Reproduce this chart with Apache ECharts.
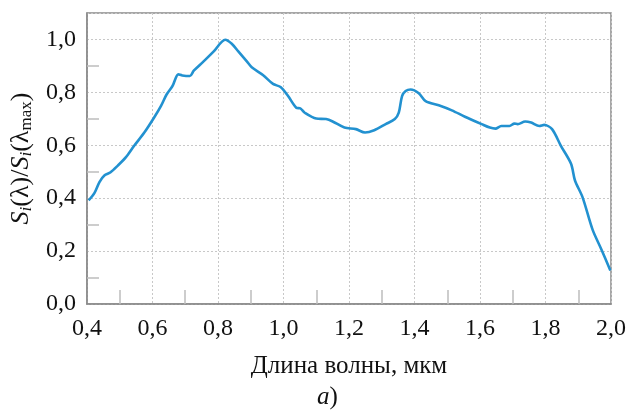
<!DOCTYPE html>
<html>
<head>
<meta charset="utf-8">
<script src="https://cdn.jsdelivr.net/npm/echarts@6/dist/echarts.min.js"></script>
<style>html,body{margin:0;padding:0;background:#fff;}#c{width:629px;height:416px;}</style>
</head>
<body>
<div id="c"></div>
<script>
const wavelength = [0.405,0.423,0.438,0.453,0.472,0.494,0.519,0.544,0.575,0.605,0.626,0.643,0.661,0.679,0.691,0.714,0.726,0.756,0.787,0.822,0.842,0.862,0.888,0.903,0.938,0.968,0.991,1.014,1.039,1.052,1.065,1.100,1.130,1.150,1.186,1.221,1.249,1.277,1.312,1.340,1.352,1.362,1.373,1.388,1.413,1.434,1.474,1.514,1.554,1.605,1.630,1.647,1.665,1.690,1.705,1.715,1.738,1.756,1.781,1.796,1.820,1.847,1.878,1.890,1.913,1.944,1.969,1.998];
const response = [0.392,0.420,0.461,0.486,0.498,0.523,0.555,0.598,0.648,0.705,0.749,0.792,0.824,0.868,0.864,0.862,0.882,0.917,0.955,0.999,0.984,0.955,0.917,0.895,0.865,0.832,0.820,0.786,0.742,0.739,0.723,0.701,0.699,0.690,0.667,0.661,0.648,0.657,0.680,0.699,0.723,0.786,0.805,0.811,0.797,0.767,0.751,0.732,0.708,0.680,0.667,0.663,0.673,0.673,0.682,0.680,0.690,0.686,0.673,0.677,0.661,0.598,0.530,0.467,0.404,0.280,0.211,0.127];
const xTicks = [0.4,0.6,0.8,1.0,1.2,1.4,1.6,1.8,2.0];
const yTicks = [0.0,0.2,0.4,0.6,0.8,1.0];
const yMinorTicks = [0.1,0.3,0.5,0.7,0.9];

const serif = '"Liberation Serif","DejaVu Serif",serif';
const fmt = v => v.toFixed(1).replace('.', ',');
const chart = echarts.init(document.getElementById('c'));
chart.setOption({
  animation: false,
  backgroundColor: '#fff',
  grid: {left: 86, right: 15, top: 13, bottom: 112, show: true, borderColor: '#8a8a8a', borderWidth: 1.5, backgroundColor: 'transparent'},
  title: {
    text: '{i|a}{n|)}', left: 312, top: 380,
    textStyle: {rich: {i: {fontFamily: serif, fontSize: 25, fontStyle: 'italic', fontWeight: 'normal', color: '#111'}, n: {fontFamily: serif, fontSize: 25, fontWeight: 'normal', color: '#111'}}}
  },
  xAxis: [{
    type: 'value', min: 0.4, max: 2.0, interval: 0.2,
    name: 'Длина волны, мкм', nameLocation: 'middle', nameGap: 50,
    nameTextStyle: {fontFamily: serif, fontSize: 25, color: '#111'},
    axisLine: {show: true, onZero: false, lineStyle: {color: '#8a8a8a', width: 1.5}},
    axisTick: {show: true, inside: true, length: 0},
    minorTick: {show: true, splitNumber: 2, length: 14, lineStyle: {color: '#bdbdbd', width: 1.5}},
    axisLabel: {margin: 13, fontFamily: serif, fontSize: 24, color: '#111', formatter: fmt,
      customValues: xTicks},
    splitLine: {show: true, lineStyle: {color: '#c8c8c8', type: [2, 2], width: 1}},
    minorSplitLine: {show: false}
  }],
  yAxis: [{
    type: 'value', min: 0, max: 1.1, interval: 0.2,
    name: '{si|S}{sub|i}{n|(λ)/}{si|S}{sub|i}{n|(λ}{subn|max}{n|)}',
    nameLocation: 'middle', nameRotate: 90, nameGap: 52,
    nameTextStyle: {
      rich: {
        si: {fontFamily: serif, fontSize: 26, fontStyle: 'italic', color: '#111', lineHeight: 28},
        n: {fontFamily: serif, fontSize: 26, color: '#111', lineHeight: 28},
        sub: {fontFamily: serif, fontSize: 17, fontStyle: 'italic', color: '#111', verticalAlign: 'bottom', lineHeight: 28},
        subn: {fontFamily: serif, fontSize: 17, color: '#111', verticalAlign: 'bottom', lineHeight: 28}
      }
    },
    axisLine: {show: true, onZero: false, lineStyle: {color: '#8a8a8a', width: 1.5}},
    axisTick: {show: false},
    axisLabel: {margin: 11, fontFamily: serif, fontSize: 24, color: '#111', formatter: fmt, customValues: yTicks},
    splitLine: {show: true, lineStyle: {color: '#c8c8c8', type: [2, 2], width: 1}}
  }, {
    type: 'value', min: 0, max: 1.1, position: 'left', offset: 0,
    axisLine: {show: false},
    axisLabel: {show: false},
    splitLine: {show: false},
    axisTick: {show: true, inside: true, length: 12, customValues: yMinorTicks, lineStyle: {color: '#bdbdbd', width: 1.5}}
  }],
  series: [{
    type: 'line', xAxisIndex: 0, yAxisIndex: 0,
    data: wavelength.map((x, i) => [x, response[i]]),
    showSymbol: false, smooth: 0.3,
    lineStyle: {color: '#2291d0', width: 2.6},
    itemStyle: {color: '#2291d0'}
  }]
});
</script>
</body>
</html>
